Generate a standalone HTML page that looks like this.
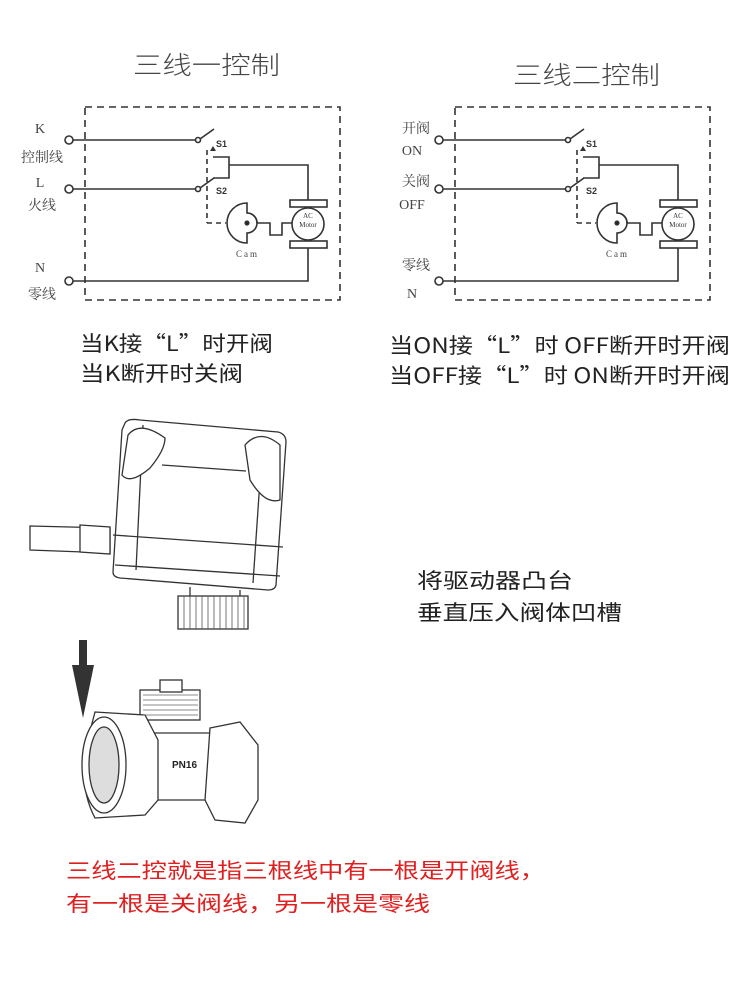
<!DOCTYPE html>
<html><head><meta charset="utf-8"><style>
body{margin:0;background:#fff;width:750px;height:997px;overflow:hidden;font-family:"Liberation Sans","Noto Sans CJK SC",sans-serif}
</style></head><body>
<svg width="750" height="997" xmlns="http://www.w3.org/2000/svg" font-family="Liberation Sans, Noto Sans CJK SC, sans-serif">
<defs>
<g id="ckt" fill="none" stroke="#333" stroke-width="1.6">
<rect x="85" y="107" width="255" height="193" stroke-dasharray="7,5"/>
<circle cx="69" cy="140" r="4" fill="#fff"/>
<circle cx="69" cy="189" r="4" fill="#fff"/>
<circle cx="69" cy="281" r="4" fill="#fff"/>
<line x1="73" y1="140" x2="195" y2="140"/>
<line x1="73" y1="189" x2="195" y2="189"/>
<circle cx="198" cy="140" r="2.5" fill="#fff"/>
<circle cx="198" cy="189" r="2.5" fill="#fff"/>
<line x1="200" y1="139" x2="214" y2="129"/>
<line x1="200" y1="188" x2="214" y2="178"/>
<polyline points="213,157 229,157 229,178 213,178"/>
<polyline points="229,165 308,165 308,200"/>
<line x1="207" y1="150" x2="207" y2="223" stroke-dasharray="5,4"/>
<line x1="207" y1="223" x2="226" y2="223" stroke-dasharray="5,4"/>
<path d="M247,203 A20,20 0 0 0 247,243 L247,233 A10,10 0 0 0 247,213 Z" fill="#fff"/>
<path d="M247,213 A10,10 0 0 1 257,223" />
<circle cx="247" cy="223" r="1.8" fill="#222"/>
<polyline points="257,223 270,223 270,235 282,235 282,223 292,223"/>
<rect x="290" y="200" width="37" height="7" fill="#fff"/>
<rect x="290" y="241" width="37" height="7" fill="#fff"/>
<circle cx="308" cy="224" r="16" fill="#fff"/>
<polyline points="308,248 308,281 73,281"/>
</g>
</defs>
<use href="#ckt"/>
<use href="#ckt" transform="translate(370,0)"/>
<g fill="#333" font-family="Liberation Serif, Noto Serif CJK SC, serif" font-size="7" text-anchor="middle">
<text x="308" y="218">AC</text><text x="308" y="227">Motor</text>
<text x="678" y="218">AC</text><text x="678" y="227">Motor</text>
</g>
<g fill="#333" font-size="9" font-weight="bold">
<polygon points="210,151 213,146 216,151"/><polygon points="580,151 583,146 586,151"/>
<text x="216" y="147">S1</text><text x="216" y="194">S2</text>
<text x="586" y="147">S1</text><text x="586" y="194">S2</text>
</g>
<g fill="#444" font-family="Liberation Serif, Noto Serif CJK SC, serif" font-size="9" letter-spacing="2">
<text x="236" y="257">Cam</text><text x="606" y="257">Cam</text>
</g>
<g fill="#444" font-family="Liberation Serif, Noto Serif CJK SC, serif" font-size="14" text-anchor="middle">
<text x="40" y="133">K</text><text x="42" y="162">控制线</text>
<text x="40" y="187">L</text><text x="42" y="210">火线</text>
<text x="40" y="272">N</text><text x="42" y="299">零线</text>
<text x="416" y="133">开阀</text><text x="412" y="155">ON</text>
<text x="416" y="186">关阀</text><text x="412" y="209">OFF</text>
<text x="416" y="270">零线</text><text x="412" y="298">N</text>
</g>
<g fill="#444" font-size="25" font-family="Noto Sans CJK SC, sans-serif" font-weight="300">
<text x="133" y="74" textLength="147" lengthAdjust="spacingAndGlyphs">三线一控制</text>
<text x="513" y="84" textLength="147" lengthAdjust="spacingAndGlyphs">三线二控制</text>
</g>
<g fill="#222" font-size="21" font-family="Noto Sans CJK SC, sans-serif">
<text x="80" y="351" textLength="193" lengthAdjust="spacingAndGlyphs">当K接“L”时开阀</text>
<text x="80" y="381" textLength="163" lengthAdjust="spacingAndGlyphs">当K断开时关阀</text>
<text x="389" y="353" textLength="341" lengthAdjust="spacingAndGlyphs">当ON接“L”时 OFF断开时开阀</text>
<text x="389" y="383" textLength="341" lengthAdjust="spacingAndGlyphs">当OFF接“L”时 ON断开时开阀</text>
<text x="417" y="588" textLength="156" lengthAdjust="spacingAndGlyphs">将驱动器凸台</text>
<text x="417" y="620" textLength="205" lengthAdjust="spacingAndGlyphs">垂直压入阀体凹槽</text>
</g>
<g fill="#e02020" font-size="21" font-family="Noto Sans CJK SC, sans-serif">
<text x="66" y="878" textLength="479" lengthAdjust="spacingAndGlyphs">三线二控就是指三根线中有一根是开阀线，</text>
<text x="66" y="911" textLength="364" lengthAdjust="spacingAndGlyphs">有一根是关阀线，另一根是零线</text>
</g>
<!-- actuator -->
<g fill="#fff" stroke="#333" stroke-width="1.3">
<path d="M30,526 L110,528 L110,553 L30,550 Z"/>
<path d="M80,525 L110,527 L110,554 L80,552 Z"/>
<path d="M125,423 Q128,418 140,420 L278,432 Q286,434 286,442 L276,585 Q275,590 268,590 L120,578 Q113,577 113,572 L122,430 Z"/>
<line x1="113" y1="535" x2="283" y2="547"/>
<line x1="115" y1="565" x2="280" y2="576"/>
<line x1="162" y1="465" x2="246" y2="471"/>
<line x1="143" y1="425" x2="136" y2="570"/>
<line x1="263" y1="436" x2="253" y2="583"/>
<path d="M128,435 Q140,420 165,438 Q165,450 150,468 Q130,485 122,475 Z"/>
<path d="M245,445 Q260,428 280,445 L280,500 Q265,505 250,480 Z"/>
<rect x="178" y="596" width="70" height="33"/>
<path d="M190,587 L190,596 M240,590 L240,596"/>
</g>
<g stroke="#555" stroke-width="0.8">
<path d="M184,596v33M190,596v33M196,596v33M202,596v33M208,596v33M214,596v33M220,596v33M226,596v33M232,596v33M238,596v33M244,596v33"/>
</g>
<polygon points="79,640 87,640 87,665 94,665 83,718 72,665 79,665" fill="#333"/>
<g fill="#fff" stroke="#333" stroke-width="1.3">
<rect x="140" y="690" width="60" height="30"/>
<rect x="160" y="680" width="22" height="12"/>
<path d="M150,733 L215,733 L215,800 L150,800 Z"/>
<path d="M95,712 L145,715 L158,740 L158,800 L145,815 L95,818 Q80,790 85,750 Z"/>
<ellipse cx="104" cy="765" rx="22" ry="48"/>
<ellipse cx="104" cy="765" rx="15" ry="38" fill="#ddd"/>
<path d="M210,728 L240,722 L258,745 L258,800 L245,823 L215,820 L205,800 Z"/>
</g>
<g stroke="#666" stroke-width="0.7"><path d="M143,695h55M143,700h55M143,705h55M143,710h55M143,715h55"/></g>
<text x="172" y="768" font-size="10" font-weight="bold" fill="#222">PN16</text>
</svg>
</body></html>
